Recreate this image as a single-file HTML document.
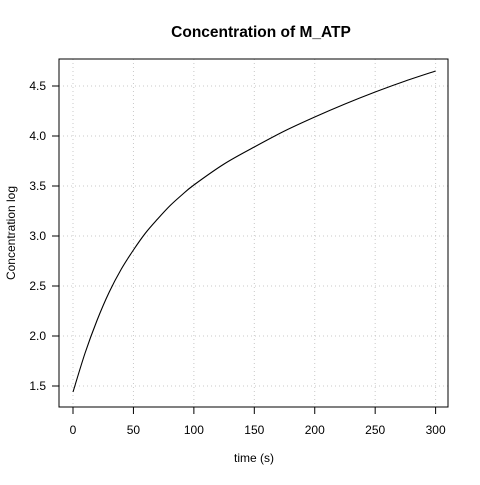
<!DOCTYPE html>
<html><head><meta charset="utf-8"><style>
body{margin:0;background:#fff;}
svg text{font-family:"Liberation Sans",Arial,sans-serif;}
</style></head><body>
<svg id="chart" width="480" height="480">
<rect width="480" height="480" fill="#fff"/>
<text x="261" y="37" text-anchor="middle" font-weight="bold" font-size="15.5">Concentration of M_ATP</text>
<text x="254" y="462" text-anchor="middle" font-size="12">time (s)</text>
<text transform="translate(15,233) rotate(-90)" text-anchor="middle" font-size="12">Concentration log</text>
<g id="grid"></g><g id="axes"></g><g id="series"></g>
<rect x="59" y="59" width="389" height="348" fill="none" stroke="#000"/>
</svg>
<script>
const times=[0,10,20,30,40,50,60,70,80,90,100,125,150,175,200,225,250,275,300];
const values=[1.44,1.83,2.16,2.44,2.67,2.86,3.03,3.17,3.30,3.41,3.51,3.72,3.89,4.05,4.19,4.32,4.44,4.55,4.65];
const xTicks=[0,50,100,150,200,250,300];
const yTicks=[1.5,2.0,2.5,3.0,3.5,4.0,4.5];
const yTickLabels=["1.5","2.0","2.5","3.0","3.5","4.0","4.5"];
const NS="http://www.w3.org/2000/svg";
const X=t=>73+t*1.2087, Y=v=>386-(v-1.5)*100;
function mk(tag,at,parent){const e=document.createElementNS(NS,tag);for(const k in at)e.setAttribute(k,at[k]);parent.appendChild(e);return e;}
const grid=document.getElementById('grid'),axes=document.getElementById('axes'),series=document.getElementById('series');
xTicks.forEach(t=>{
 const g=mk('line',{x1:X(t),x2:X(t),y1:59,y2:407,stroke:'#c8c8c8','stroke-dasharray':'1 3'},grid);
 
 
 const tk=mk('line',{x1:X(t),x2:X(t),y1:407,y2:414,stroke:'#000'},axes);
 
 
 const tx=mk('text',{x:X(t),y:434,'text-anchor':'middle','font-size':12},axes);tx.textContent=t;
 
 
});
yTicks.forEach((v,i)=>{
 const g=mk('line',{x1:59,x2:448,y1:Y(v),y2:Y(v),stroke:'#c8c8c8','stroke-dasharray':'1 3'},grid);
 
 
 const tk=mk('line',{x1:52,x2:59,y1:Y(v),y2:Y(v),stroke:'#000'},axes);
 
 
 const tx=mk('text',{x:46,y:Y(v)+4,'text-anchor':'end','font-size':12},axes);tx.textContent=yTickLabels[i];
 
 
});
const pts=times.map((t,i)=>[X(t),Y(values[i])]);
let d=`M${pts[0][0]},${pts[0][1]}`;
for(let i=0;i<pts.length-1;i++){
 const p0=pts[Math.max(i-1,0)],p1=pts[i],p2=pts[i+1],p3=pts[Math.min(i+2,pts.length-1)];
 const c1=[p1[0]+(p2[0]-p0[0])/6,p1[1]+(p2[1]-p0[1])/6],c2=[p2[0]-(p3[0]-p1[0])/6,p2[1]-(p3[1]-p1[1])/6];
 d+=` C${c1[0]},${c1[1]} ${c2[0]},${c2[1]} ${p2[0]},${p2[1]}`;
}
const line=mk('path',{d:d,fill:'none',stroke:'#000','stroke-width':1.1},series);


</script>
</body></html>
